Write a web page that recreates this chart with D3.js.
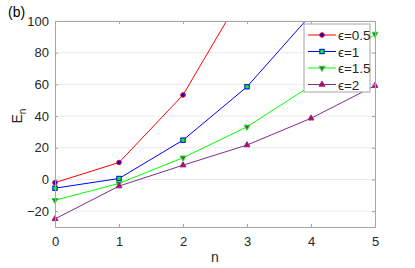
<!DOCTYPE html>
<html>
<head>
<meta charset="utf-8">
<script src="https://cdn.jsdelivr.net/npm/d3@7"></script>
<style>
  body { margin: 0; background: #fff; }
  svg { font-family: "Liberation Sans", Arial, sans-serif; }
</style>
</head>
<body>
<svg id="drawing_region"></svg>
<script>
const nValues = [0, 1, 2, 3, 4, 5];
const seriesNames = ['\u03f5=0.5', '\u03f5=1', '\u03f5=1.5', '\u03f5=2'];
const eps05 = [-2, 10.7, 53.3, 122];
const eps1 = [-5.5, 0.6, 24.8, 58.5, 104];
const eps15 = [-13.1, -2.5, 13.7, 33.2, 59.2, 91.8];
const eps2 = [-24.9, -4.2, 9.0, 21.7, 38.6, 59.2];
const yTicks = [-20, 0, 20, 40, 60, 80, 100];

const width = 415, height = 268;
const margin = {top: 21, right: 40, bottom: 41, left: 55};
const innerW = width - margin.left - margin.right;
const innerH = height - margin.top - margin.bottom;

const styles = [
  {line: '#ff0000', fill: '#0000ff', shape: 'circle'},
  {line: '#0000ff', fill: '#00ff00', shape: 'square'},
  {line: '#00ff00', fill: '#a020a0', shape: 'down'},
  {line: '#7e2f8e', fill: '#d0004a', shape: 'up'}
];
const allSeries = [eps05, eps1, eps15, eps2];

const svg = d3.select('#drawing_region')
  .attr('width', width)
  .attr('height', height);

const chart = svg.append('g')
  .attr('transform', `translate(${margin.left}, ${margin.top})`);

const xscale = d3.scaleLinear().domain([0, 5]).range([0, innerW]);
const yscale = d3.scaleLinear().domain([-30, 100]).range([innerH, 0]);

// grid
chart.selectAll('.grid')
  .data(yTicks)
  .enter()
  .append('line')
  .attr('x1', 0).attr('x2', innerW)
  .attr('y1', d => yscale(d)).attr('y2', d => yscale(d))
  .attr('stroke', '#ebebeb')
  .attr('stroke-width', 1);

svg.append('clipPath').attr('id', 'clip')
  .append('rect').attr('width', innerW).attr('height', innerH);

const plot = chart.append('g').attr('clip-path', 'url(#clip)');

const line = d3.line()
  .x((d, i) => xscale(nValues[i]))
  .y(d => yscale(d));

function marker(g, shape, x, y, st) {
  let el;
  if (shape === 'circle') {
    el = g.append('circle').attr('cx', x).attr('cy', y).attr('r', 2.3);
  } else if (shape === 'square') {
    el = g.append('rect').attr('x', x - 2.2).attr('y', y - 2.2).attr('width', 4.4).attr('height', 4.4);
  } else {
    const sym = d3.symbol().type(d3.symbolTriangle).size(15);
    el = g.append('path').attr('d', sym())
      .attr('transform', `translate(${x},${y}) rotate(${shape === 'down' ? 180 : 0})`);
  }
  el.attr('fill', st.fill).attr('stroke', st.line).attr('stroke-width', 1);
}

allSeries.forEach((s, k) => {
  plot.append('path')
    .datum(s)
    .attr('d', line)
    .attr('fill', 'none')
    .attr('stroke', styles[k].line)
    .attr('stroke-width', 1);
});
allSeries.forEach((s, k) => {
  s.forEach((v, i) => {
    if (v <= 100) marker(chart, styles[k].shape, xscale(nValues[i]), yscale(v), styles[k]);
  });
});

// axes
const axisColor = '#262626';
const xaxis = d3.axisBottom(xscale).tickValues(nValues).tickSize(-3).tickPadding(10).tickFormat(d3.format('d'));
const yaxis = d3.axisLeft(yscale).tickValues(yTicks).tickSize(-3).tickPadding(6);

const xg = chart.append('g').attr('transform', `translate(0, ${innerH})`).call(xaxis);
const yg = chart.append('g').call(yaxis);
const tg = chart.append('g').call(d3.axisTop(xscale).tickValues(nValues).tickSize(-3).tickFormat(''));
const rg = chart.append('g').attr('transform', `translate(${innerW},0)`)
  .call(d3.axisRight(yscale).tickValues(yTicks).tickSize(-3).tickFormat(''));

[xg, yg, tg, rg].forEach(g => {
  g.selectAll('path').attr('stroke', '#a6a6a6');
  g.selectAll('line').attr('stroke', '#a6a6a6');
  g.selectAll('text').attr('fill', axisColor).style('font-size', '13px').style('font-family', '"Liberation Sans", Arial, sans-serif');
});

// labels
svg.append('text')
  .attr('x', margin.left + innerW / 2)
  .attr('y', 262)
  .attr('text-anchor', 'middle')
  .attr('fill', axisColor)
  .style('font-size', '14px')
  .text('n');

const yl = svg.append('text')
  .attr('transform', `translate(22, ${margin.top + yscale(40)}) rotate(-90)`)
  .attr('text-anchor', 'middle')
  .attr('fill', axisColor)
  .style('font-size', '14px');
yl.append('tspan').text('E');
yl.append('tspan').attr('dy', 4).style('font-size', '10px').text('n');

svg.append('text')
  .attr('x', 8)
  .attr('y', 17)
  .attr('fill', '#000')
  .style('font-size', '14px')
  .text('(b)');

// legend
const legend = svg.append('g').attr('transform', 'translate(304, 24)');
legend.append('rect')
  .attr('width', 66).attr('height', 68)
  .attr('fill', '#fff').attr('stroke', '#a6a6a6').attr('stroke-width', 1);

seriesNames.forEach((name, k) => {
  const y = 11 + k * 16.5;
  legend.append('line')
    .attr('x1', 4).attr('x2', 32).attr('y1', y).attr('y2', y)
    .attr('stroke', styles[k].line).attr('stroke-width', 1);
  marker(legend, styles[k].shape, 18, y, styles[k]);
  legend.append('text')
    .attr('x', 34).attr('y', y + 5)
    .attr('fill', axisColor)
    .style('font-size', '13.5px')
    .text(name);
});
</script>
</body>
</html>
